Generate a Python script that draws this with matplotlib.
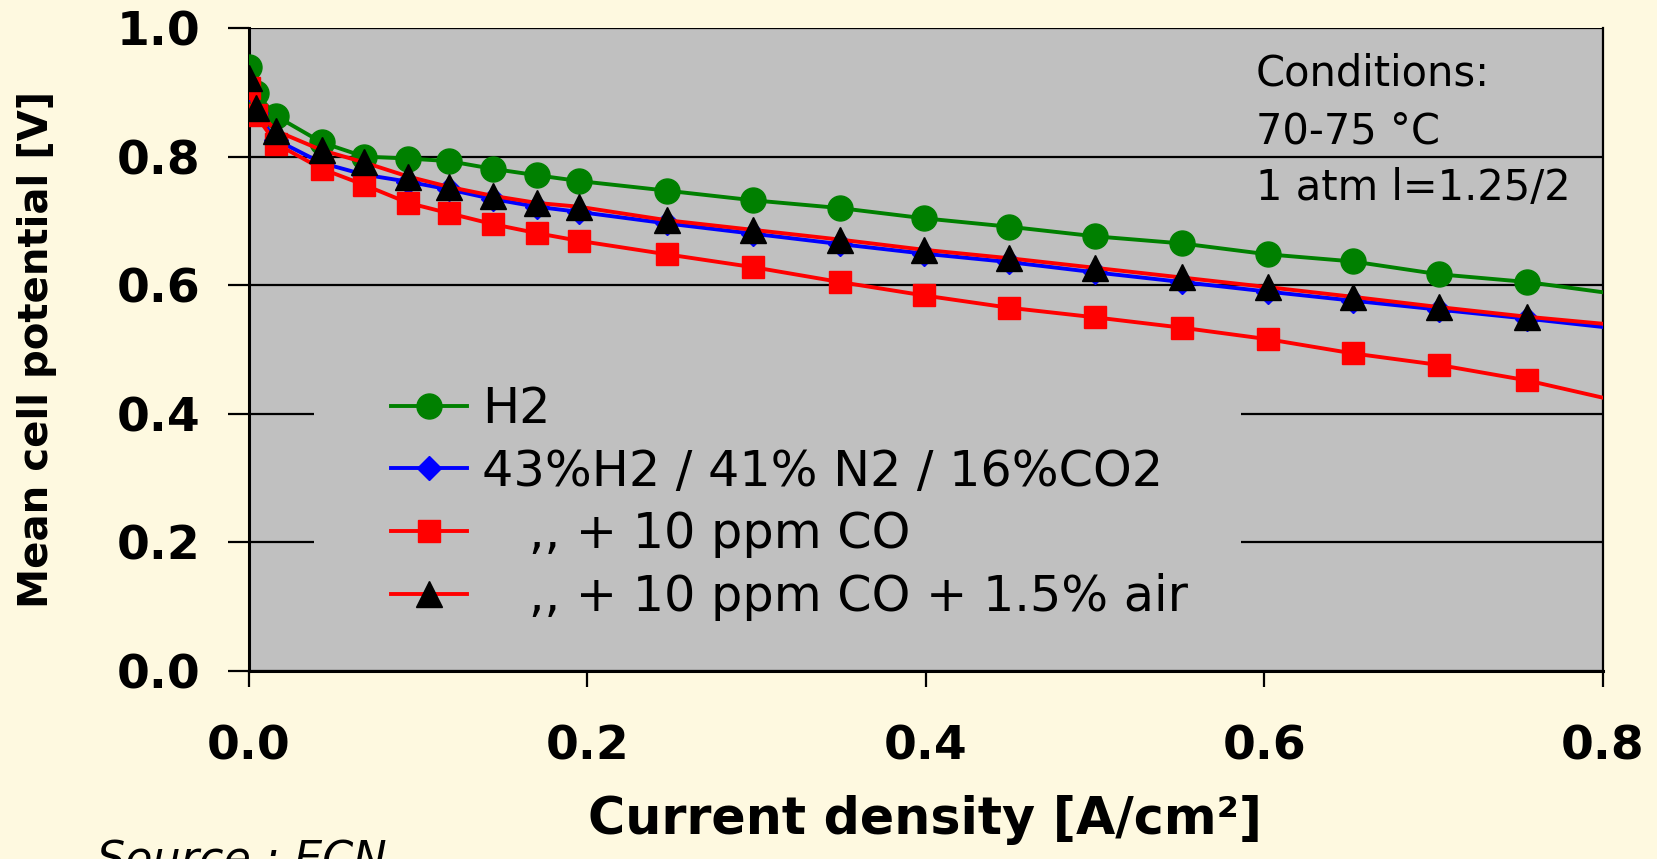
import matplotlib
matplotlib.use("Agg")
import matplotlib.pyplot as plt
from matplotlib.patches import Rectangle
from matplotlib.ticker import FormatStrFormatter

# ---- data ----
current_density = [0.0, 0.004, 0.016, 0.043, 0.068, 0.094, 0.118, 0.144, 0.170, 0.195,
                   0.247, 0.298, 0.349, 0.399, 0.449, 0.500, 0.551, 0.602, 0.652, 0.703,
                   0.755, 0.800]
h2 = [0.939, 0.899, 0.863, 0.822, 0.800, 0.797, 0.793, 0.781, 0.771, 0.762,
      0.747, 0.732, 0.720, 0.704, 0.691, 0.676, 0.665, 0.648, 0.637, 0.617,
      0.605, 0.589]
reformate = [0.905, 0.868, 0.826, 0.790, 0.772, 0.761, 0.749, 0.734, 0.722, 0.714,
             0.696, 0.680, 0.664, 0.649, 0.636, 0.620, 0.605, 0.590, 0.576, 0.562,
             0.548, 0.535]
reformate_co = [0.907, 0.865, 0.820, 0.781, 0.756, 0.728, 0.712, 0.695, 0.681, 0.669,
                0.648, 0.628, 0.605, 0.584, 0.565, 0.550, 0.534, 0.516, 0.494, 0.476,
                0.452, 0.425]
reformate_co_air = [0.922, 0.875, 0.840, 0.810, 0.791, 0.769, 0.753, 0.739, 0.728, 0.722,
                    0.701, 0.686, 0.671, 0.655, 0.642, 0.627, 0.612, 0.597, 0.582, 0.566,
                    0.551, 0.540]
labels = ["H2", "43%H2 / 41% N2 / 16%CO2", "   ,, + 10 ppm CO", "   ,, + 10 ppm CO + 1.5% air"]
x_ticks = [0.0, 0.2, 0.4, 0.6, 0.8]
y_ticks = [0.0, 0.2, 0.4, 0.6, 0.8, 1.0]
conditions = ["Conditions:", "70-75 \u00b0C", "1 atm l=1.25/2"]

W, H = 1658, 859
BG = "#FEF9E0"
GRAY = "#C0C0C0"

fig = plt.figure(figsize=(W / 100, H / 100), dpi=100, facecolor=BG)
ax = fig.add_axes([249 / W, 1 - 671 / H, (1603 - 249) / W, (671 - 28) / H])
ax.set_facecolor(GRAY)
ax.set_xlim(0, 0.8)
ax.set_ylim(0, 1.0)

ax.set_axisbelow(True)
ax.yaxis.grid(True, color="black", linewidth=1.6, zorder=0.5)
ax.xaxis.grid(False)

# legend backdrop hides the gridlines behind the legend
ax.add_patch(Rectangle((0.048, 0.035), 0.685, 0.50, transform=ax.transAxes,
                       facecolor=GRAY, edgecolor="none", zorder=1))

n_mark = len(current_density) - 1
mk = list(range(n_mark))
lw = 2.8
l1, = ax.plot(current_density, h2, color="#008000", lw=lw, marker="o", ms=18,
              markevery=mk, mec="#008000", mfc="#008000", zorder=3)
l2, = ax.plot(current_density, reformate, color="#0000FF", lw=lw, marker="D", ms=12,
              markevery=mk, mec="#0000FF", mfc="#0000FF", zorder=3)
l3, = ax.plot(current_density, reformate_co, color="#FF0000", lw=lw, marker="s", ms=16.5,
              markevery=mk, mec="#FF0000", mfc="#FF0000", zorder=3)
l4, = ax.plot(current_density, reformate_co_air, color="#FF0000", lw=lw, marker="^", ms=19,
              markevery=mk, mec="black", mfc="black", zorder=3)

ax.spines["top"].set_visible(False)
ax.spines["left"].set_linewidth(2.2)
ax.spines["bottom"].set_linewidth(2.2)
ax.spines["right"].set_linewidth(1.6)

ax.set_xticks(x_ticks)
ax.set_yticks(y_ticks)
ax.xaxis.set_major_formatter(FormatStrFormatter("%.1f"))
ax.yaxis.set_major_formatter(FormatStrFormatter("%.1f"))
ax.tick_params(axis="y", direction="out", length=15, width=1.6, pad=20,
               labelsize=34, color="black")
ax.tick_params(axis="x", direction="out", length=11.5, width=1.6, pad=27,
               labelsize=34, color="black")
for lab in ax.get_xticklabels() + ax.get_yticklabels():
    lab.set_fontfamily("DejaVu Sans")
    lab.set_fontweight("bold")

leg = fig.legend([l1, l2, l3, l4], labels, loc="center left",
                 bbox_to_anchor=(391 / W, 1 - 503 / H), frameon=False,
                 prop={"family": "DejaVu Sans", "size": 35.5},
                 handlelength=1.55, handletextpad=0.3, labelspacing=0.3,
                 borderpad=0, borderaxespad=0)

fig.text(925 / W, 1 - 834 / H, "Current density [A/cm\u00b2]", ha="center",
         va="baseline", fontsize=36.5, fontweight="bold", family="DejaVu Sans")
fig.text(37 / W, 1 - 349 / H, "Mean cell potential [V]", rotation=90, ha="center",
         va="center", fontsize=29, fontweight="bold", family="DejaVu Sans")

for txt, yb in zip(conditions, [85, 143, 200]):
    fig.text(1256 / W, 1 - yb / H, txt, ha="left", va="baseline", fontsize=30,
             family="DejaVu Sans")

fig.text(97 / W, 1 - 873 / H, "Source : ECN", ha="left", va="baseline",
         fontsize=32, style="italic", family="DejaVu Sans")

fig.savefig("out.png", dpi=100, facecolor=BG)
